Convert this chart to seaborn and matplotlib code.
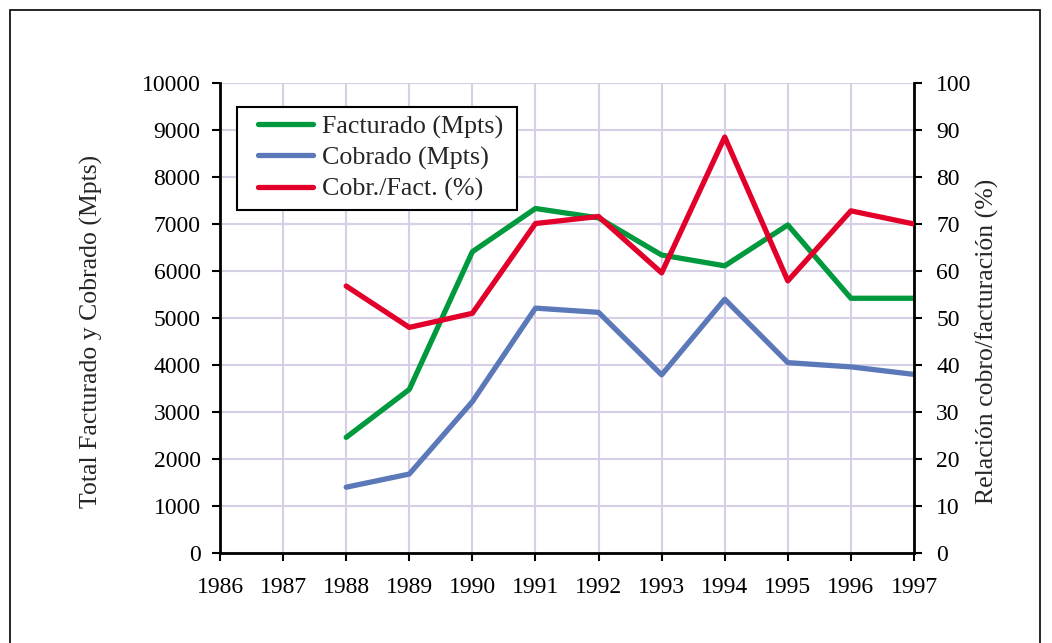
import matplotlib
matplotlib.use("Agg")
import matplotlib.pyplot as plt
import seaborn as sns
import pandas as pd
from matplotlib.patches import Rectangle
from matplotlib.lines import Line2D

years = [1988, 1989, 1990, 1991, 1992, 1993, 1994, 1995, 1996, 1997]
facturado = [2460, 3480, 6410, 7330, 7130, 6340, 6110, 6980, 5420, 5420]
cobrado = [1400, 1680, 3220, 5210, 5120, 3790, 5400, 4050, 3960, 3800]
ratio = [56.8, 48.0, 51.0, 70.1, 71.6, 59.6, 88.5, 57.9, 72.8, 70.0]
year_ticks = list(range(1986, 1998))

sns.set_theme(style="white")
plt.rcParams['font.family'] = ['Liberation Serif', 'DejaVu Serif']

df = pd.DataFrame({"year": years, "Facturado": facturado, "Cobrado": cobrado, "Ratio": ratio})

GREEN = "#00993d"
BLUE = "#5b78b8"
RED = "#e2002b"
GRID = "#d6cfe6"

W, H = 1052, 643
fig = plt.figure(figsize=(W/100, H/100), dpi=100)
fig.patches.append(Rectangle((10/W, -0.05), 1030/W, 1.05 - 10/H,
                             transform=fig.transFigure, fill=False, edgecolor="black", linewidth=1.2))
ax = fig.add_axes([220/W, (H-553)/H, 694/W, 470/H])

sns.lineplot(data=df, x="year", y="Facturado", ax=ax, color=GREEN, linewidth=3.8, zorder=3)
sns.lineplot(data=df, x="year", y="Cobrado", ax=ax, color=BLUE, linewidth=3.8, zorder=3)
ax.set_xlim(1986, 1997)
ax.set_ylim(0, 10000)
ax.set_xticks(year_ticks)
ax.set_xticklabels([str(y) for y in year_ticks])
ax.set_yticks(range(0, 10001, 1000))
ax.grid(True, color=GRID, linewidth=1.5, zorder=0)
ax.set_axisbelow(True)
ax.set_xlabel("")
ax.set_ylabel("Total Facturado y Cobrado (Mpts)", fontsize=18.5)
ax.yaxis.set_label_coords((103-220)/694, (553-331)/470)

ax2 = ax.twinx()
sns.lineplot(data=df, x="year", y="Ratio", ax=ax2, color=RED, linewidth=3.8, zorder=4)
ax2.set_ylim(0, 100)
ax2.set_yticks(range(0, 101, 10))
ax2.set_ylabel("Relación cobro/facturación (%)", fontsize=18.5)
ax2.yaxis.set_label_coords((976-220)/694, (553-341)/470)
ax2.set_xlim(1986, 1997)

for a in (ax, ax2):
    a.spines['top'].set_visible(False)
    for s in ('left', 'right', 'bottom'):
        a.spines[s].set_color("black")
        a.spines[s].set_linewidth(2)
    a.tick_params(axis='both', which='major', labelsize=17, direction='out',
                  length=6, width=1.5, color="black", labelcolor="black")
ax.spines['right'].set_visible(False)
ax2.spines['left'].set_visible(False)
ax2.spines['bottom'].set_visible(False)
ax.tick_params(axis='y', left=True, pad=8)
ax.tick_params(axis='x', bottom=True, pad=11)
ax2.tick_params(axis='y', right=True, pad=10)

# legend frame
ax2.add_patch(Rectangle(((237-220)/694, (553-210)/470), (517-237)/694, (210-107)/470,
                        transform=ax2.transAxes, facecolor="white", edgecolor="black",
                        linewidth=1.5, zorder=6, clip_on=False))
handles = [Line2D([], [], color=GREEN, linewidth=3.8),
           Line2D([], [], color=BLUE, linewidth=3.8),
           Line2D([], [], color=RED, linewidth=3.8)]
labels = ["Facturado (Mpts)", "Cobrado (Mpts)", "Cobr./Fact. (%)"]
leg = ax2.legend(handles, labels, loc="upper left", bbox_to_anchor=((258-220)/694, 1 - (115-83)/470),
                 borderaxespad=0, borderpad=0, fontsize=18.7, frameon=False,
                 handlelength=55/26, handletextpad=0.35, labelspacing=0.3)
leg.set_zorder(7)

fig.savefig("out.png", dpi=100)
